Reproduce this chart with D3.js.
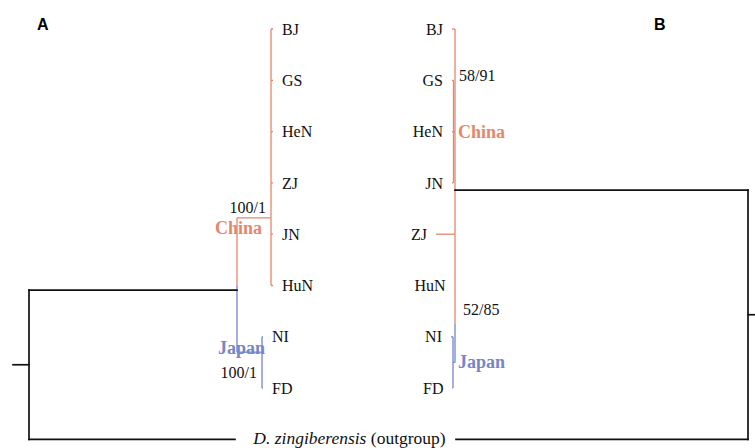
<!DOCTYPE html>
<html>
<head>
<meta charset="utf-8">
<script src="https://cdn.jsdelivr.net/npm/d3@7"></script>
<style>
  html, body { margin: 0; padding: 0; background: #fff; }
  svg { display: block; }
</style>
</head>
<body>
<svg id="chart" width="755" height="448"></svg>
<script>
// Leaf order, top to bottom, for each tree; the outgroup sits on the shared bottom row.
const leafOrderA = ["BJ", "GS", "HeN", "ZJ", "JN", "HuN", "NI", "FD", "outgroup"];
const leafOrderB = ["BJ", "GS", "HeN", "JN", "ZJ", "HuN", "NI", "FD", "outgroup"];

// Tree A branches: id, parent, branch length, clade, row where an internal node attaches.
const branchesA = [
  { id: "root",     parent: null,       len: 0.016 },
  { id: "ingroup",  parent: "root",     len: 0.208, at: 5.09 },
  { id: "cladeCN",  parent: "ingroup",  len: 0.034, clade: "China", at: 3.68 },
  { id: "BJ",       parent: "cladeCN",  len: 0.002 },
  { id: "GS",       parent: "cladeCN",  len: 0.002 },
  { id: "HeN",      parent: "cladeCN",  len: 0.002 },
  { id: "ZJ",       parent: "cladeCN",  len: 0.002 },
  { id: "JN",       parent: "cladeCN",  len: 0.002 },
  { id: "HuN",      parent: "cladeCN",  len: 0.002 },
  { id: "cladeJP",  parent: "ingroup",  len: 0.025, clade: "Japan", at: 6.30 },
  { id: "NI",       parent: "cladeJP",  len: 0.001 },
  { id: "FD",       parent: "cladeJP",  len: 0.001 },
  { id: "outgroup", parent: "root",     len: 0.206 }
];

// Tree B branches (drawn right to left).
const branchesB = [
  { id: "root",     parent: null,       len: 0.007 },
  { id: "ingroup",  parent: "root",     len: 0.293, at: 3.14 },
  { id: "BJ",       parent: "ingroup",  len: 0.003, clade: "China" },
  { id: "subCN",    parent: "ingroup",  len: 0.0015, clade: "China" },
  { id: "GS",       parent: "subCN",    len: 0.0015 },
  { id: "HeN",      parent: "subCN",    len: 0.0015 },
  { id: "JN",       parent: "subCN",    len: 0.0015 },
  { id: "ZJ",       parent: "ingroup",  len: 0.019, clade: "China" },
  { id: "HuN",      parent: "ingroup",  len: 0.0005, clade: "China" },
  { id: "cladeJP",  parent: "ingroup",  len: 0.002, clade: "Japan" },
  { id: "NI",       parent: "cladeJP",  len: 0.002 },
  { id: "FD",       parent: "cladeJP",  len: 0.0005 },
  { id: "outgroup", parent: "root",     len: 0.292 }
];

// Node support values (bootstrap / posterior).
const supportsA = [
  { node: "cladeCN", text: "100/1" },
  { node: "cladeJP", text: "100/1" }
];
const supportsB = [
  { node: "subCN",   text: "58/91" },
  { node: "ingroup", text: "52/85" }
];

// Clade names shown beside each tree.
const cladeLabelsA = [
  { node: "cladeCN", text: "China" },
  { node: "cladeJP", text: "Japan" }
];
const cladeLabelsB = [
  { node: "subCN",   text: "China" },
  { node: "cladeJP", text: "Japan" }
];

const panelLetters = ["A", "B"];

// ---- styling ----
const cladeColor = { China: "#E4876B", Japan: "#7486C8" };
const serif = "'Liberation Serif', 'Times New Roman', serif";
const sans = "'Liberation Sans', Arial, sans-serif";

const svg = d3.select("#chart");
svg.append("rect").attr("width", 755).attr("height", 448).attr("fill", "#fff");

function makeY(order) {
  return d3.scalePoint().domain(order).range([29, 439.4]);
}
function rowY(y, r) { return y.range()[0] + r * y.step(); }

function buildTree(branches, yScale) {
  const root = d3.stratify().id(d => d.id).parentId(d => d.parent)(branches);
  root.eachBefore(n => {
    n.dist = (n.parent ? n.parent.dist : 0) + n.data.len;
    n.clade = n.data.clade || (n.parent ? n.parent.clade : null);
  });
  root.eachAfter(n => {
    if (!n.children) { n.py = yScale(n.id); return; }
    n.children.sort((a, b) => a.py - b.py);
    n.py = n.data.at != null
      ? rowY(yScale, n.data.at)
      : (n.children[0].py + n.children[n.children.length - 1].py) / 2;
  });
  return root;
}

function colorOf(n) { return n.clade ? cladeColor[n.clade] : "#111"; }
function widthOf(n) { return n.clade ? 1.3 : 1.7; }

function drawTree(root, x, dir) {
  const g = svg.append("g");
  const seg = (x1, y1, x2, y2, n) => g.append("line")
    .attr("x1", x1).attr("y1", y1).attr("x2", x2).attr("y2", y2)
    .attr("stroke", colorOf(n)).attr("stroke-width", widthOf(n))
    .attr("stroke-linecap", n.clade ? "butt" : "square");

  // vertical connectors, split at the midpoint where adjacent children change clade
  root.each(n => {
    if (!n.children) return;
    const xn = x(n.dist);
    const kids = n.children;
    for (let i = 0; i < kids.length - 1; i++) {
      const a = kids[i], b = kids[i + 1];
      if (colorOf(a) === colorOf(b)) {
        seg(xn, a.py, xn, b.py, a);
      } else {
        const m = (a.py + b.py) / 2;
        seg(xn, a.py, xn, m, a);
        seg(xn, m, xn, b.py, b);
      }
    }
  });
  // horizontal branches
  root.each(n => {
    const x0 = n.parent ? x(n.parent.dist) : x(0);
    seg(x0, n.py, x(n.dist), n.py, n);
  });
  // leaf names
  root.leaves().filter(n => n.id !== "outgroup").forEach(n => {
    g.append("text")
      .attr("x", x(n.dist) + 9 * dir).attr("y", n.py).attr("dy", "0.35em")
      .attr("text-anchor", dir > 0 ? "start" : "end")
      .attr("font-family", serif).attr("font-size", 16).attr("fill", "#111")
      .text(n.id);
  });
  return g;
}

function findNode(root, id) { return root.descendants().find(n => n.id === id); }

// ---- tree A ----
const yA = makeY(leafOrderA);
const xA = d3.scaleLinear().domain([0, 0.25]).range([13, 263]);
const rootA = buildTree(branchesA, yA);
const gA = drawTree(rootA, xA, 1);

// ---- tree B ----
const yB = makeY(leafOrderB);
const xB = d3.scaleLinear().domain([0, 0.25]).range([755, 505]);
const rootB = buildTree(branchesB, yB);
const gB = drawTree(rootB, xB, -1);

// Label placement: [dx, dy, anchor, reference row] — "node" uses the node's own y,
// "top" the y of its first child.
const supportPlace = {
  A: { cladeCN: [-5, -5, "end", "node"], cladeJP: [-5, 26, "end", "node"] },
  B: { subCN: [5.5, 1, "start", "top"], ingroup: [8, 125, "start", "node"] }
};
const cladePlace = {
  A: { cladeCN: [-9, 16, "end", "node"], cladeJP: [3, 2, "end", "node"] },
  B: { subCN: [4.5, 6, "start", "node"], cladeJP: [5, 6, "start", "node"] }
};

function drawLabels(g, root, x, list, place, style) {
  list.forEach(s => {
    const n = findNode(root, s.node);
    const [dx, dy, anchor, ref] = place[s.node];
    const y0 = ref === "top" ? n.children[0].py : n.py;
    const t = g.append("text")
      .attr("x", x(n.dist) + dx).attr("y", y0 + dy)
      .attr("text-anchor", anchor)
      .attr("font-family", serif)
      .text(s.text);
    style(t, s);
  });
}
const supportStyle = t => t.attr("font-size", 16).attr("fill", "#111");
const cladeStyle = (t, s) => t.attr("font-size", 18).attr("font-weight", "bold")
  .attr("fill", cladeColor[s.text]);

drawLabels(gA, rootA, xA, supportsA, supportPlace.A, supportStyle);
drawLabels(gB, rootB, xB, supportsB, supportPlace.B, supportStyle);
drawLabels(gA, rootA, xA, cladeLabelsA, cladePlace.A, cladeStyle);
drawLabels(gB, rootB, xB, cladeLabelsB, cladePlace.B, cladeStyle);

// shared outgroup name, centred in the gap between the two outgroup branches
const outA = findNode(rootA, "outgroup"), outB = findNode(rootB, "outgroup");
const outText = svg.append("text")
  .attr("x", (xA(outA.dist) + xB(outB.dist)) / 2 + 4).attr("y", outA.py + 4.5)
  .attr("text-anchor", "middle")
  .attr("font-family", serif).attr("font-size", 17.5).attr("fill", "#111");
outText.append("tspan").attr("font-style", "italic").text("D. zingiberensis");
outText.append("tspan").text(" (outgroup)");

// panel letters
svg.selectAll("text.panel").data(panelLetters).join("text")
  .attr("class", "panel")
  .attr("x", (d, i) => i === 0 ? 37 : 654).attr("y", 30)
  .attr("font-family", sans).attr("font-size", 16).attr("font-weight", "bold")
  .attr("fill", "#000")
  .text(d => d);
</script>
</body>
</html>
